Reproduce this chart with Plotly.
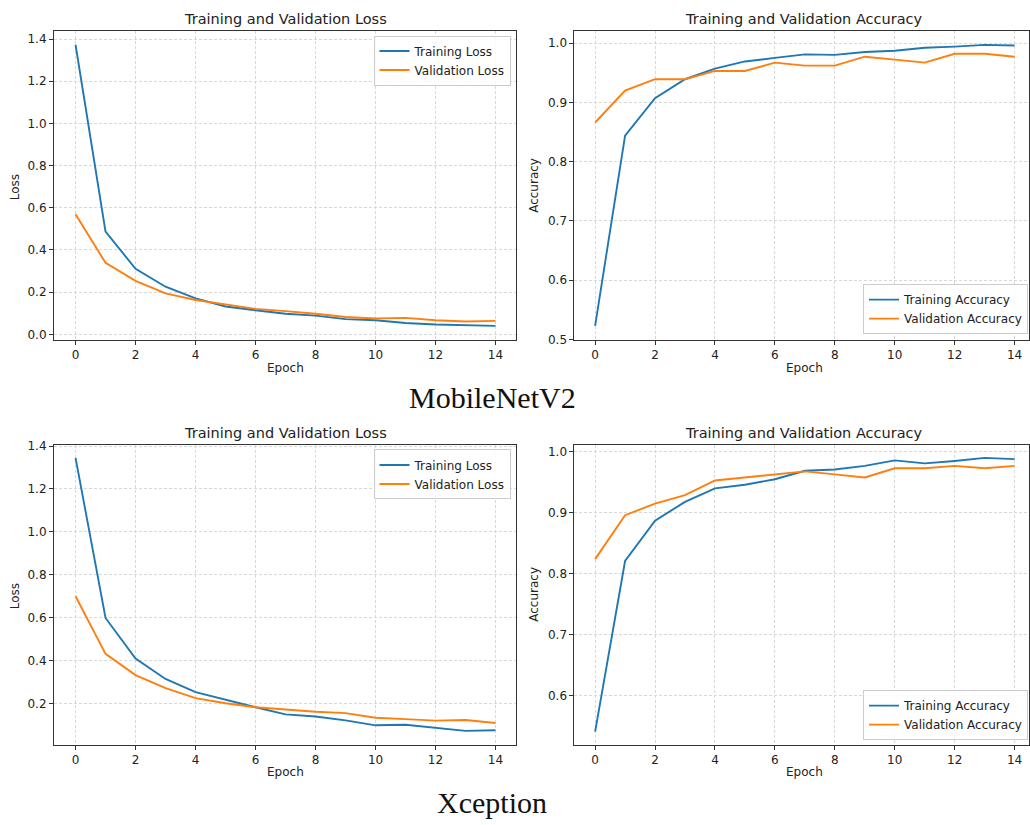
import plotly.graph_objects as go

epochs = list(range(15))

# MobileNetV2
mb_train_loss = [1.373, 0.487, 0.311, 0.226, 0.171, 0.132, 0.114, 0.098, 0.089, 0.072, 0.067, 0.054, 0.047, 0.042, 0.040]
mb_val_loss = [0.569, 0.339, 0.254, 0.194, 0.163, 0.142, 0.121, 0.110, 0.098, 0.082, 0.075, 0.078, 0.067, 0.061, 0.064]
mb_train_acc = [0.523, 0.844, 0.907, 0.939, 0.957, 0.969, 0.975, 0.981, 0.980, 0.985, 0.987, 0.992, 0.994, 0.997, 0.996]
mb_val_acc = [0.866, 0.920, 0.939, 0.939, 0.953, 0.953, 0.967, 0.962, 0.962, 0.977, 0.972, 0.967, 0.982, 0.982, 0.977]

# Xception
xc_train_loss = [1.345, 0.599, 0.410, 0.315, 0.254, 0.218, 0.183, 0.150, 0.140, 0.122, 0.099, 0.102, 0.088, 0.073, 0.076]
xc_val_loss = [0.700, 0.432, 0.333, 0.272, 0.226, 0.202, 0.183, 0.171, 0.162, 0.156, 0.134, 0.128, 0.121, 0.124, 0.110]
xc_train_acc = [0.541, 0.821, 0.887, 0.918, 0.940, 0.946, 0.955, 0.969, 0.971, 0.977, 0.986, 0.981, 0.985, 0.990, 0.988]
xc_val_acc = [0.824, 0.896, 0.915, 0.929, 0.953, 0.958, 0.963, 0.968, 0.963, 0.958, 0.973, 0.973, 0.977, 0.973, 0.977]

panel_titles = ["Training and Validation Loss", "Training and Validation Accuracy"]
model_names = ["MobileNetV2", "Xception"]

BLUE = "#1f77b4"
ORANGE = "#ff7f0e"
W, H = 1030, 825
FONT = "DejaVu Sans"

fig = go.Figure()

panels = [
    ("x", "y", "legend", mb_train_loss, mb_val_loss, "Training Loss", "Validation Loss"),
    ("x2", "y2", "legend2", mb_train_acc, mb_val_acc, "Training Accuracy", "Validation Accuracy"),
    ("x3", "y3", "legend3", xc_train_loss, xc_val_loss, "Training Loss", "Validation Loss"),
    ("x4", "y4", "legend4", xc_train_acc, xc_val_acc, "Training Accuracy", "Validation Accuracy"),
]
for xa, ya, lg, tr, va, tn, vn in panels:
    fig.add_trace(go.Scatter(x=epochs, y=tr, mode="lines", name=tn, xaxis=xa, yaxis=ya,
                             legend=lg, line=dict(color=BLUE, width=1.9)))
    fig.add_trace(go.Scatter(x=epochs, y=va, mode="lines", name=vn, xaxis=xa, yaxis=ya,
                             legend=lg, line=dict(color=ORANGE, width=1.9)))

left_x = (54, 517)
right_x = (575, 1030)
top_y = (26, 340)
bot_y = (446, 751)

def xd(px):
    return [px[0] / W, px[1] / W]

def yd(py):
    return [1 - py[1] / H, 1 - py[0] / H]

axis_common = dict(
    showline=True, mirror=True, linecolor="#333", linewidth=1,
    ticks="outside", ticklen=4, tickcolor="#333", tickwidth=1,
    showgrid=True, gridcolor="#d8d8d8", griddash="3px,2px", gridwidth=0.8,
    zeroline=False, tickfont=dict(family=FONT, size=12, color="#222"),
)

xticks = [0, 2, 4, 6, 8, 10, 12, 14]

layout = dict(
    width=W, height=H, margin=dict(l=0, r=0, t=0, b=0),
    plot_bgcolor="white", paper_bgcolor="white",
    font=dict(family=FONT, color="#222"),
)

layout["xaxis"] = dict(axis_common, domain=xd(left_x), range=[-0.72, 14.7], tickvals=xticks, anchor="y")
layout["yaxis"] = dict(axis_common, domain=yd(top_y), range=[-0.027, 1.44],
                       tickvals=[0.0, 0.2, 0.4, 0.6, 0.8, 1.0, 1.2, 1.4], tickformat=".1f", anchor="x")
layout["xaxis2"] = dict(axis_common, domain=xd(right_x), range=[-0.69, 14.48], tickvals=xticks, anchor="y2")
layout["yaxis2"] = dict(axis_common, domain=yd(top_y), range=[0.499, 1.021],
                        tickvals=[0.5, 0.6, 0.7, 0.8, 0.9, 1.0], tickformat=".1f", anchor="x2")
layout["xaxis3"] = dict(axis_common, domain=xd(left_x), range=[-0.72, 14.7], tickvals=xticks, anchor="y3")
layout["yaxis3"] = dict(axis_common, domain=yd(bot_y), range=[0.007, 1.407],
                        tickvals=[0.2, 0.4, 0.6, 0.8, 1.0, 1.2, 1.4], tickformat=".1f", anchor="x3")
layout["xaxis4"] = dict(axis_common, domain=xd(right_x), range=[-0.69, 14.48], tickvals=xticks, anchor="y4")
layout["yaxis4"] = dict(axis_common, domain=yd(bot_y), range=[0.519, 1.012],
                        tickvals=[0.6, 0.7, 0.8, 0.9, 1.0], tickformat=".1f", anchor="x4")

legend_common = dict(bgcolor="rgba(255,255,255,0.85)", bordercolor="#cccccc", borderwidth=1,
                     font=dict(family=FONT, size=12, color="#222"), xanchor="right")
layout["legend"] = dict(legend_common, x=511 / W, y=1 - 31 / H, yanchor="top")
layout["legend2"] = dict(legend_common, x=1029 / W, y=1 - 334 / H, yanchor="bottom")
layout["legend3"] = dict(legend_common, x=511 / W, y=1 - 451 / H, yanchor="top")
layout["legend4"] = dict(legend_common, x=1029 / W, y=1 - 746 / H, yanchor="bottom")

fig.update_layout(**layout)

annotations = []
def ann(text, xpx, ypx, size, family=FONT, angle=0, color="#222"):
    annotations.append(dict(text=text, x=xpx / W, y=1 - ypx / H, xref="paper", yref="paper",
                            showarrow=False, xanchor="center", yanchor="middle", textangle=angle,
                            font=dict(family=family, size=size, color=color)))

ann(panel_titles[0], 285.5, 14, 14.5)
ann(panel_titles[1], 805, 14, 14.5)
ann(panel_titles[0], 285.5, 434, 14.5)
ann(panel_titles[1], 805, 434, 14.5)
for xc in (285.5, 805):
    ann("Epoch", xc, 368, 12)
    ann("Epoch", xc, 778.5, 12)
ann("Loss", 15, 185, 12, angle=-90)
ann("Loss", 15, 600, 12, angle=-90)
ann("Accuracy", 535, 183, 12, angle=-90)
ann("Accuracy", 535, 598, 12, angle=-90)
ann(model_names[0], 492.5, 398, 30, family="Liberation Serif", color="#111")
ann(model_names[1], 492, 809, 30, family="Liberation Serif", color="#111")

fig.update_layout(annotations=annotations)

fig.write_html(
    "out.html",
    config={"displayModeBar": False},
    post_script="document.body.style.margin='0';document.body.style.overflow='hidden';",
)
